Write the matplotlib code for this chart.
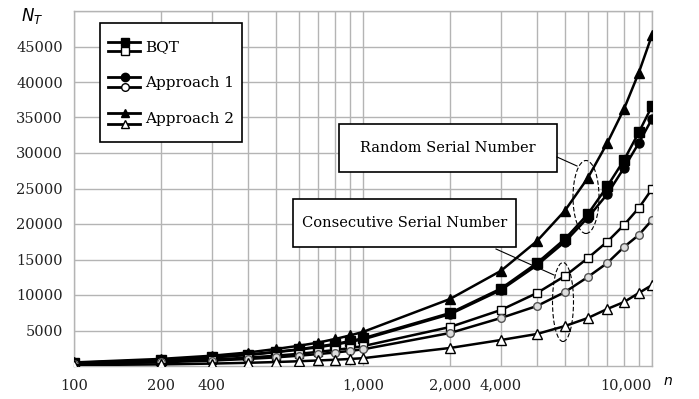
import matplotlib
matplotlib.use("Agg")
import matplotlib.pyplot as plt
from matplotlib.patches import Rectangle, Ellipse
from matplotlib.lines import Line2D

# ---------------- data ----------------
n_values = [100, 200, 300, 400, 500, 600, 700, 800, 900, 1000,
            2000, 3000, 4000, 5000, 6000, 7000, 8000, 9000, 10000]

bqt_random = [450, 850, 1250, 1600, 2000, 2350, 2750, 3100, 3500, 3900,
              7460, 10900, 14500, 17900, 21400, 25300, 29000, 32900, 36600]
app1_random = [430, 820, 1200, 1550, 1950, 2300, 2650, 3000, 3400, 3750,
               7300, 10700, 14200, 17500, 20900, 24200, 27900, 31400, 34800]
app2_random = [500, 1000, 1450, 1900, 2400, 2850, 3300, 3800, 4300, 4800,
               9440, 13400, 17600, 21900, 26500, 31400, 36200, 41300, 46600]
bqt_consec = [330, 620, 900, 1180, 1450, 1720, 2000, 2250, 2520, 2800,
              5490, 7890, 10280, 12680, 15200, 17500, 19860, 22250, 24930]
app1_consec = [280, 520, 760, 990, 1220, 1450, 1680, 1900, 2120, 2350,
               4650, 6760, 8450, 10420, 12540, 14500, 16760, 18450, 20560]
app2_consec = [120, 230, 340, 450, 560, 670, 780, 880, 990, 1100,
               2540, 3660, 4510, 5630, 6760, 8030, 9010, 10280, 11400]

grid_x = [100, 200, 300, 400, 500, 600, 700, 800, 900, 1000,
          2000, 3000, 4000, 5000, 6000, 7000, 8000, 9000, 10000]
x_label_positions = [100, 200, 300, 1000, 2000, 3000, 10000]
x_label_texts = ["100", "200", "400", "1,000", "2,000", "4,000", "10,000"]
y_ticks = [5000, 10000, 15000, 20000, 25000, 30000, 35000, 40000, 45000, 50000]
y_tick_labels = ["5000", "10000", "15000", "20000", "25000", "30000", "35000", "40000", "45000", ""]

legend_labels = ["BQT", "Approach 1", "Approach 2"]

# ---------------- figure ----------------
W, H = 699, 399
fig = plt.figure(figsize=(W / 100, H / 100), dpi=100)
SERIF = ["DejaVu Serif"]

def fx(x):
    return x / W

def fy(y):
    return 1 - y / H

ax = fig.add_axes([fx(74), fy(366), fx(652) - fx(74), fy(11) - fy(366)])
ax.set_xscale("log")
ax.set_xlim(100, 10000)
ax.set_ylim(0, 50000)

grid_color = "#b4b4b4"
for gx in grid_x:
    ax.axvline(gx, color=grid_color, lw=1.0, zorder=0)
for gy in y_ticks:
    ax.axhline(gy, color=grid_color, lw=1.0, zorder=0)

ax.xaxis.set_minor_locator(matplotlib.ticker.NullLocator())
ax.set_xticks(x_label_positions)
ax.set_xticklabels(x_label_texts, family=SERIF, fontsize=10.5)
ax.set_yticks(y_ticks)
ax.set_yticklabels(y_tick_labels, family=SERIF, fontsize=10.5)
ax.tick_params(axis="both", length=0, pad=9, colors="#222222")
ax.tick_params(axis="y", pad=8)
last = ax.get_xticklabels()[-1]
last.set_horizontalalignment("right")
for s in ax.spines.values():
    s.set_color(grid_color)
    s.set_linewidth(1.0)

lw = 1.8
ax.plot(n_values, app2_random, color="black", lw=lw, marker="^", ms=6.5,
        mfc="black", mec="black", zorder=3)
ax.plot(n_values, bqt_random, color="black", lw=lw, marker="s", ms=7.5,
        mfc="black", mec="black", zorder=3)
ax.plot(n_values, app1_random, color="black", lw=lw, marker="o", ms=6.5,
        mfc="black", mec="black", zorder=3)
ax.plot(n_values, bqt_consec, color="black", lw=lw, marker="s", ms=6,
        mfc="white", mec="black", mew=1.0, zorder=3)
ax.plot(n_values, app1_consec, color="black", lw=lw, marker="o", ms=5.5,
        mfc="#dddddd", mec="#555555", mew=1.0, zorder=3)
ax.plot(n_values, app2_consec, color="black", lw=lw, marker="^", ms=7,
        mfc="white", mec="black", mew=1.0, zorder=3)

# axis labels
fig.text(fx(32), fy(16), r"$N_T$", fontsize=12, ha="center", va="center")
fig.text(fx(668), fy(381), r"$n$", fontsize=10, ha="center", va="center")

# ---------------- legend (manual) ----------------
fig.patches.append(Rectangle((fx(100), fy(142)), fx(242) - fx(100), fy(23) - fy(142),
                             transform=fig.transFigure, facecolor="white",
                             edgecolor="black", lw=1.2, zorder=5))
legend_rows = [(42, 51, "s", "s", 47), (77, 87, "o", "o", 83), (113, 124, "^", "^", 119)]
for (ytop, ybot, mk1, mk2, ytxt), lab in zip(legend_rows, legend_labels):
    fig.lines.append(Line2D([fx(108), fx(140)], [fy(ytop), fy(ytop)], transform=fig.transFigure,
                            color="black", lw=2, zorder=6))
    fig.lines.append(Line2D([fx(125)], [fy(ytop)], transform=fig.transFigure, marker=mk1,
                            ms=6, mfc="black", mec="black", color="black", zorder=7))
    fig.lines.append(Line2D([fx(108), fx(140)], [fy(ybot), fy(ybot)], transform=fig.transFigure,
                            color="black", lw=2, zorder=6))
    fig.lines.append(Line2D([fx(125)], [fy(ybot)], transform=fig.transFigure, marker=mk2,
                            ms=5.5, mfc="white", mec="black", mew=1.0, color="black", zorder=7))
    fig.text(fx(145), fy(ytxt), lab, family=SERIF, fontsize=11, ha="left", va="center", zorder=7)

# ---------------- annotations ----------------
fig.patches.append(Rectangle((fx(339), fy(172)), fx(557) - fx(339), fy(124) - fy(172),
                             transform=fig.transFigure, facecolor="white",
                             edgecolor="black", lw=1.2, zorder=5))
fig.text(fx(448), fy(148), "Random Serial Number", family=SERIF, fontsize=10.5,
         ha="center", va="center", zorder=7)
fig.patches.append(Ellipse((fx(586), fy(197)), fx(26), 73 / H, transform=fig.transFigure,
                           facecolor="none", edgecolor="black", lw=0.8, ls=(0, (4, 2)), zorder=6))
fig.lines.append(Line2D([fx(557), fx(577)], [fy(157), fy(166)], transform=fig.transFigure,
                        color="black", lw=0.8, zorder=6))

fig.patches.append(Rectangle((fx(293), fy(247)), fx(516) - fx(293), fy(199) - fy(247),
                             transform=fig.transFigure, facecolor="white",
                             edgecolor="black", lw=1.2, zorder=5))
fig.text(fx(404.5), fy(223), "Consecutive Serial Number", family=SERIF, fontsize=10.5,
         ha="center", va="center", zorder=7)
fig.patches.append(Ellipse((fx(563), fy(302)), fx(21), 79 / H, transform=fig.transFigure,
                           facecolor="none", edgecolor="black", lw=0.8, ls=(0, (4, 2)), zorder=6))
fig.lines.append(Line2D([fx(496), fx(554)], [fy(249), fy(275)], transform=fig.transFigure,
                        color="black", lw=0.8, zorder=6))

fig.savefig("out.png", dpi=100, facecolor="white")
